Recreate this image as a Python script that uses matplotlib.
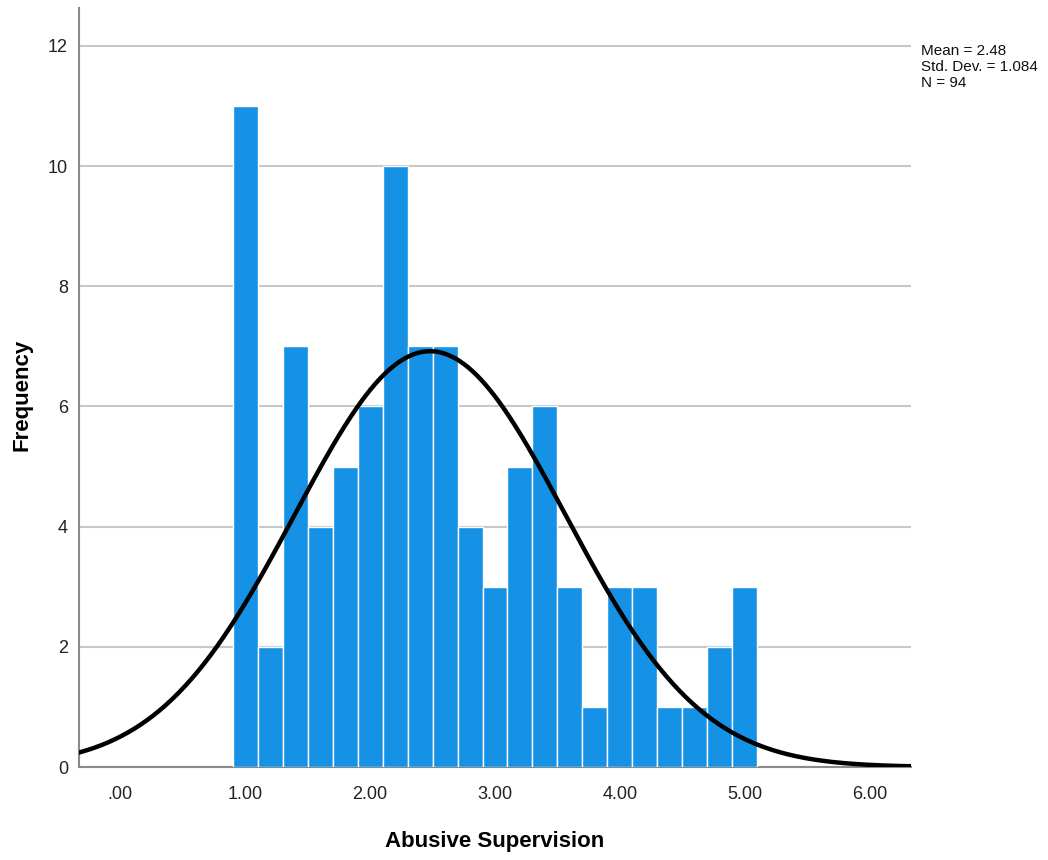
import matplotlib
matplotlib.use("Agg")
import matplotlib.pyplot as plt
import numpy as np

# histogram of abusive supervision scores (bin width 0.2)
bin_centers = [1.0, 1.2, 1.4, 1.6, 1.8, 2.0, 2.2, 2.4, 2.6, 2.8, 3.0,
               3.2, 3.4, 3.6, 3.8, 4.0, 4.2, 4.4, 4.6, 4.8, 5.0]
counts = [11, 2, 7, 4, 5, 6, 10, 7, 7, 4, 3,
          5, 6, 3, 1, 3, 3, 1, 1, 2, 3]
bin_width = 0.2
mean, sd, n = 2.48, 1.084, 94
x_ticks = [0, 1, 2, 3, 4, 5, 6]
x_labels = ['.00', '1.00', '2.00', '3.00', '4.00', '5.00', '6.00']
y_ticks = [0, 2, 4, 6, 8, 10, 12]

plt.rcParams['font.family'] = ['Liberation Sans', 'DejaVu Sans']

fig = plt.figure(figsize=(10.48, 8.6), dpi=100)
ax = fig.add_axes([79/1048, 93/860, 832/1048, 759/860])

ax.bar(bin_centers, counts, width=bin_width, color='#1591e6',
       edgecolor='white', linewidth=1.0, zorder=3)

# normal curve scaled to counts
xs = np.linspace(-0.4, 6.4, 400)
ys = n * bin_width * np.exp(-0.5 * ((xs - mean) / sd) ** 2) / (sd * np.sqrt(2 * np.pi))
ax.plot(xs, ys, color='black', linewidth=3.2, zorder=4)

ax.set_xlim(-0.33, 6.33)
ax.set_ylim(0, 12.63)
ax.set_xticks(x_ticks)
ax.set_xticklabels(x_labels)
ax.set_yticks(y_ticks)
ax.tick_params(length=0, labelsize=13, colors='#222222', pad=8)
ax.tick_params(axis='x', pad=14)
ax.yaxis.grid(True, color='#c8c8c8', linewidth=1.5, zorder=0)
ax.set_axisbelow(True)

for side in ['top', 'right']:
    ax.spines[side].set_visible(False)
for side in ['left', 'bottom']:
    ax.spines[side].set_color('#8a8a8a')
    ax.spines[side].set_linewidth(1.5)

fig.text(495/1048, 1 - 842/860, 'Abusive Supervision', fontsize=16,
         fontweight='bold', ha='center', va='center')
fig.text(22/1048, 1 - 395/860, 'Frequency', fontsize=16, fontweight='bold',
         rotation=90, ha='center', va='center')

fig.text(921/1048, 1 - 44/860,
         'Mean = %.2f\nStd. Dev. = %.3f\nN = %d' % (mean, sd, n),
         fontsize=11, va='top', ha='left', linespacing=1.2, color='#111111')

fig.savefig('out.png', dpi=100)
